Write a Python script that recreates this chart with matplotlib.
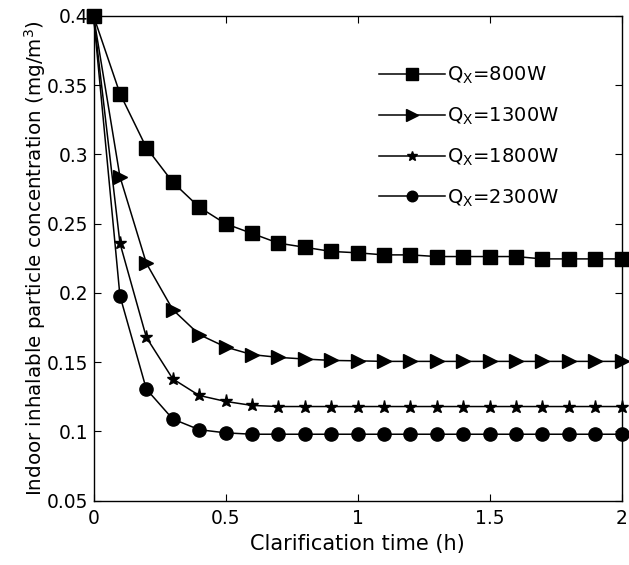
import matplotlib.pyplot as plt
import numpy as np

plt.rcParams['font.family'] = ['DejaVu Sans']
plt.rcParams['mathtext.fontset'] = 'dejavusans'
plt.rcParams['xtick.direction'] = 'in'
plt.rcParams['ytick.direction'] = 'in'

# clarification time (h)
t = np.round(np.arange(0, 2.01, 0.1), 1)

# concentration (mg/m^3) for each heater power
q800 = [0.400, 0.344, 0.305, 0.280, 0.262, 0.250, 0.243, 0.236, 0.233, 0.230, 0.229,
        0.2275, 0.2275, 0.2263, 0.2263, 0.2263, 0.2263, 0.2246, 0.2246, 0.2246, 0.2246]
q1300 = [0.400, 0.284, 0.2215, 0.188, 0.170, 0.161, 0.1555, 0.1535, 0.1523, 0.1513, 0.151,
         0.1506, 0.1506, 0.1506, 0.1506, 0.1506, 0.1506, 0.1506, 0.1506, 0.1506, 0.1506]
q1800 = [0.400, 0.236, 0.168, 0.138, 0.126, 0.1217, 0.1188, 0.118, 0.118, 0.118, 0.118,
         0.118, 0.118, 0.118, 0.118, 0.118, 0.118, 0.118, 0.118, 0.118, 0.118]
q2300 = [0.400, 0.198, 0.1306, 0.109, 0.1013, 0.099, 0.098, 0.098, 0.098, 0.098, 0.098,
         0.098, 0.098, 0.098, 0.098, 0.098, 0.098, 0.098, 0.098, 0.098, 0.098]

series = [q800, q1300, q1800, q2300]
labels = [r'$\mathregular{Q_X}$=800W', r'$\mathregular{Q_X}$=1300W',
          r'$\mathregular{Q_X}$=1800W', r'$\mathregular{Q_X}$=2300W']
markers = ['s', '>', '*', 'o']
msizes = [10, 10, 9.5, 9.5]

fig = plt.figure(figsize=(6.29, 5.65), dpi=100)
ax = fig.add_axes([0.1487, 0.1138, 0.8394, 0.8579])

for y, lab, m, ms in zip(series, labels, markers, msizes):
    ax.plot(t, y, color='black', marker=m, markersize=ms, linewidth=1.1,
            label=lab, clip_on=False, zorder=3)

ax.set_xlim(0, 2)
ax.set_ylim(0.05, 0.4)
ax.set_xticks([0, 0.5, 1, 1.5, 2])
ax.set_xticklabels(['0', '0.5', '1', '1.5', '2'])
ax.set_yticks([0.05, 0.1, 0.15, 0.2, 0.25, 0.3, 0.35, 0.4])
ax.set_yticklabels(['0.05', '0.1', '0.15', '0.2', '0.25', '0.3', '0.35', '0.4'])
ax.tick_params(top=True, right=True, labelsize=13.4, length=5, width=0.8)
ax.tick_params(axis='x', pad=6)
ax.tick_params(axis='y', pad=4)
for s in ax.spines.values():
    s.set_linewidth(1.0)

ax.set_xlabel('Clarification time (h)', fontsize=15, labelpad=4)
ax.set_ylabel(r'Indoor inhalable particle concentration (mg/m$\mathregular{^3}$)',
              fontsize=14.3, labelpad=-1)

ax.legend(loc='upper left', bbox_to_anchor=(0.525, 0.915), frameon=False, fontsize=14,
          handlelength=3.4, handletextpad=0.1, labelspacing=1.0, markerscale=0.8,
          numpoints=1, borderaxespad=0)

fig.savefig('out.png', dpi=100)
